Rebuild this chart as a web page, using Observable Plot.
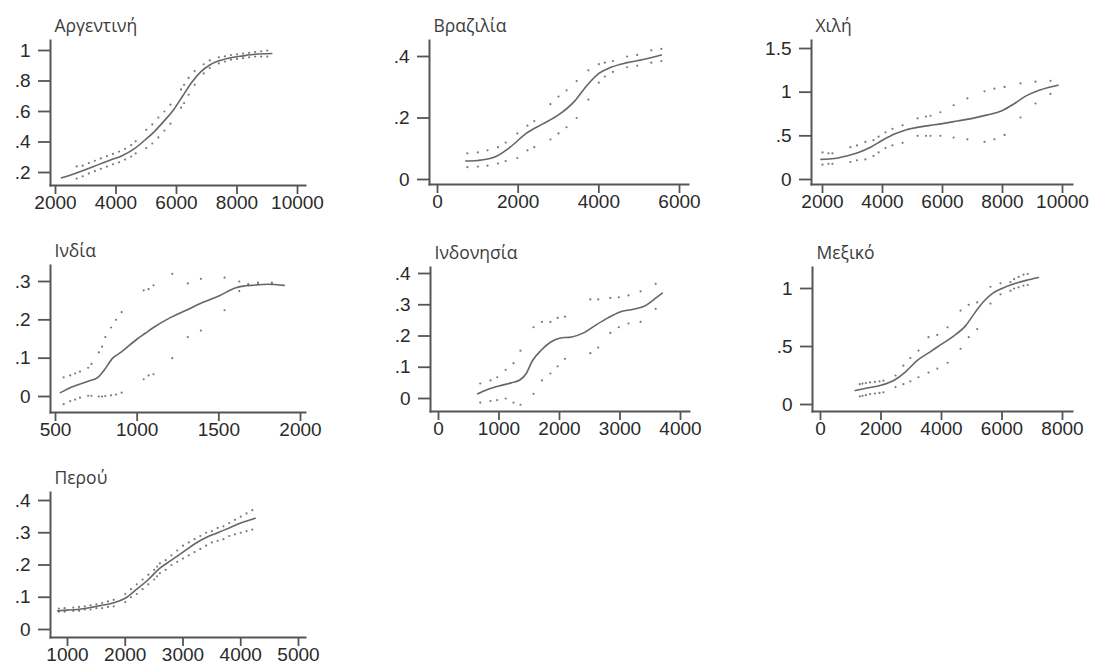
<!DOCTYPE html>
<html><head><meta charset="utf-8">
<script src="https://cdn.jsdelivr.net/npm/d3@7"></script>
<script src="https://cdn.jsdelivr.net/npm/@observablehq/plot@0.6"></script>
<style>
body{margin:0;background:#fff;}
#chart{position:relative;width:1093px;height:664px;overflow:hidden;background:#fff;}
.panel{position:absolute;}
</style></head><body><div id="chart"></div>
<script>
// ---------- DATA ----------
const countries = ["Αργεντινή","Βραζιλία","Χιλή","Ινδία","Ινδονησία","Μεξικό","Περού"];

// Αργεντινή
const argLineX = [2200,2600,3000,3400,3800,4200,4600,5000,5300,5600,5900,6200,6500,6800,7100,7400,7800,8200,8600,9150];
const argLineY = [0.165,0.19,0.22,0.25,0.28,0.31,0.355,0.42,0.475,0.54,0.61,0.70,0.79,0.86,0.905,0.932,0.953,0.965,0.975,0.98];
const argBandX = [2700,2900,3100,3300,3500,3700,3900,4100,4300,4500,4650,5000,5200,5400,5600,5800,6150,6250,6400,6600,6900,7100,7400,7600,7800,8000,8200,8400,8600,8800,9000];
const argUpper = [.24,.245,.262,.277,.292,.307,.322,.337,.355,.38,.405,.48,.515,.56,.60,.645,.745,.775,.82,.865,.91,.935,.955,.962,.97,.975,.98,.985,.99,.995,1.0];
const argLower = [.16,.175,.194,.209,.224,.239,.254,.267,.285,.305,.325,.36,.39,.43,.475,.52,.625,.655,.71,.775,.85,.885,.915,.928,.94,.945,.95,.955,.96,.96,.96];
const argXTicks = [2000,4000,6000,8000,10000];
const argYTicks = [0.2,0.4,0.6,0.8,1];

// Βραζιλία
const braLineX = [700,1000,1400,1800,2200,2600,3000,3400,3700,4000,4300,4700,5100,5550];
const braLineY = [0.06,0.062,0.072,0.105,0.15,0.18,0.21,0.255,0.305,0.345,0.365,0.38,0.39,0.405];
const braBandX = [740,1000,1240,1500,1690,1980,2230,2400,2800,3000,3200,3450,3740,4000,4150,4350,4700,4950,5300,5550];
const braUpper = [.085,.088,.095,.105,.12,.15,.175,.19,.245,.27,.29,.32,.355,.375,.38,.385,.40,.405,.42,.425];
const braLower = [.04,.042,.045,.052,.06,.07,.095,.105,.13,.15,.17,.20,.26,.315,.335,.35,.365,.37,.38,.385];
const braXTicks = [0,2000,4000,6000];
const braYTicks = [0,0.2,0.4];

// Χιλή
const chlLineX = [1950,2400,2800,3200,3600,4000,4400,4800,5200,5600,6000,6500,7000,7500,8000,8400,8800,9200,9600,9850];
const chlLineY = [.23,.24,.27,.31,.37,.45,.52,.57,.60,.62,.64,.67,.70,.74,.79,.87,.96,1.02,1.06,1.08];
const chlBandX = [2000,2200,2330,2930,3150,3430,3700,3870,4100,4330,4670,5170,5450,5600,5930,6370,6830,7400,7730,8070,8600,9100,9600];
const chlUpper = [.31,.30,.30,.37,.39,.43,.45,.49,.54,.58,.62,.70,.72,.73,.77,.85,.93,1.01,1.04,1.06,1.10,1.12,1.13];
const chlLower = [.17,.18,.18,.20,.22,.23,.27,.31,.36,.39,.42,.50,.50,.50,.50,.48,.46,.43,.46,.51,.71,.87,.98];
const chlXTicks = [2000,4000,6000,8000,10000];
const chlYTicks = [0,0.5,1,1.5];

// Ινδία
const indLineX = [530,600,700,760,800,850,900,1000,1050,1100,1200,1300,1400,1500,1600,1650,1700,1800,1900];
const indLineY = [.01,.025,.04,.05,.07,.10,.115,.15,.165,.18,.205,.225,.245,.262,.283,.288,.29,.293,.29];
const indBandX = [550,590,620,650,700,720,765,785,805,840,870,905,1040,1070,1100,1215,1310,1390,1535,1625,1680,1740,1825];
const indUpper = [.05,.055,.06,.065,.075,.085,.115,.13,.155,.18,.20,.22,.277,.28,.29,.32,.295,.307,.31,.30,.293,.297,.297];
const indLower = [-.02,-.012,-.008,-.003,.002,.002,0,0,.001,.003,.005,.01,.045,.055,.058,.10,.155,.172,.225,.275,.29,.293,.293];
const indXTicks = [500,1000,1500,2000];
const indYTicks = [0,0.1,0.2,0.3];

// Ινδονησία
const idnLineX = [650,800,1000,1200,1350,1450,1550,1700,1850,2000,2200,2400,2600,2800,3000,3200,3400,3550,3700];
const idnLineY = [.015,.028,.04,.05,.06,.08,.12,.155,.18,.193,.197,.21,.235,.258,.277,.285,.295,.315,.337];
const idnBandX = [690,860,970,1110,1240,1355,1570,1710,1850,1970,2090,2510,2640,2840,2980,3140,3340,3590];
const idnUpper = [.048,.058,.068,.092,.113,.153,.228,.245,.245,.258,.262,.317,.317,.322,.324,.33,.343,.367];
const idnLower = [-.013,-.008,-.005,0,-.013,-.02,.015,.058,.08,.103,.127,.145,.163,.21,.228,.24,.245,.287];
const idnXTicks = [0,1000,2000,3000,4000];
const idnYTicks = [0,0.1,0.2,0.3,0.4];

// Μεξικό
const mexLineX = [1150,1500,2000,2500,2800,3200,3600,4000,4400,4800,5100,5400,5700,6000,6400,6800,7200];
const mexLineY = [.12,.14,.165,.22,.28,.38,.45,.52,.59,.68,.79,.89,.96,1.0,1.04,1.07,1.095];
const mexBandX = [1300,1390,1500,1640,1800,1950,2080,2480,2740,2970,3240,3570,3860,4200,4630,4900,5180,5620,5950,6280,6400,6550,6710,6850];
const mexUpper = [.175,.18,.185,.19,.195,.20,.205,.25,.335,.40,.465,.58,.60,.665,.81,.86,.88,1.015,1.045,1.055,1.08,1.10,1.12,1.125];
const mexLower = [.07,.075,.08,.09,.095,.10,.105,.15,.175,.20,.235,.275,.31,.36,.48,.58,.65,.87,.95,.98,1.0,1.01,1.025,1.03];
const mexXTicks = [0,2000,4000,6000,8000];
const mexYTicks = [0,0.5,1];

// Περού
const perLineX = [830,1000,1200,1400,1600,1800,2000,2200,2400,2600,2800,3000,3200,3400,3600,3800,4000,4250];
const perLineY = [.058,.06,.063,.068,.075,.083,.097,.125,.155,.19,.215,.24,.265,.285,.30,.315,.33,.345];
const perBandX = [850,950,1100,1200,1300,1400,1500,1600,1700,1800,2000,2100,2200,2300,2400,2500,2550,2600,2700,2800,2900,3000,3100,3200,3300,3400,3500,3600,3700,3800,3900,4000,4100,4200];
const perUpper = [.065,.066,.068,.07,.072,.075,.078,.082,.087,.092,.11,.125,.14,.155,.17,.185,.195,.205,.215,.23,.245,.26,.27,.28,.29,.30,.305,.315,.32,.33,.34,.35,.36,.37];
const perLower = [.055,.055,.058,.058,.062,.062,.066,.066,.07,.072,.085,.1,.11,.125,.14,.155,.165,.175,.185,.2,.21,.22,.23,.24,.25,.26,.27,.275,.28,.29,.295,.30,.305,.31];
const perXTicks = [1000,2000,3000,4000,5000];
const perYTicks = [0,0.1,0.2,0.3,0.4];

// ---------- LAYOUT ----------
const panels = [
  {title: countries[0], lx: argLineX, ly: argLineY, bx: argBandX, up: argUpper, lo: argLower, xt: argXTicks, yt: argYTicks,
   frame: [50,305,40,185], ins: [5,8,10,13]},
  {title: countries[1], lx: braLineX, ly: braLineY, bx: braBandX, up: braUpper, lo: braLower, xt: braXTicks, yt: braYTicks,
   frame: [429,688,40,184], ins: [8,9,16,5]},
  {title: countries[2], lx: chlLineX, ly: chlLineY, bx: chlBandX, up: chlUpper, lo: chlLower, xt: chlXTicks, yt: chlYTicks,
   frame: [811,1072,40,184], ins: [11,10,8,5]},
  {title: countries[3], lx: indLineX, ly: indLineY, bx: indBandX, up: indUpper, lo: indLower, xt: indXTicks, yt: indYTicks,
   frame: [50,305,265,412], ins: [5,5,16,16]},
  {title: countries[4], lx: idnLineX, ly: idnLineY, bx: idnBandX, up: idnUpper, lo: idnLower, xt: idnXTicks, yt: idnYTicks,
   frame: [430,689,267,411], ins: [8,9,6,13]},
  {title: countries[5], lx: mexLineX, ly: mexLineY, bx: mexBandX, up: mexUpper, lo: mexLower, xt: mexXTicks, yt: mexYTicks,
   frame: [812,1072,267,411], ins: [8,10,21,7]},
  {title: countries[6], lx: perLineX, ly: perLineY, bx: perBandX, up: perUpper, lo: perLower, xt: perXTicks, yt: perYTicks,
   frame: [50,305,492,637], ins: [17,7,8,8]}
];

const ML = 50, MR = 20, MT = 40, MB = 27;
const fmt = d => d === 0 ? "0" : String(d).replace(/^0\./, ".").replace(/^-0\./, "-.");
const AX = "#555", TXT = "#2a2a2a";

const chart = document.getElementById("chart");
for (const p of panels) {
  const [L, R, T, B] = p.frame;
  const [iL, iR, iT, iB] = p.ins;
  const line = p.lx.map((x, i) => ({x, y: p.ly[i]}));
  const band = p.bx.flatMap((x, i) => [{x, y: p.up[i]}, {x, y: p.lo[i]}]);
  const svg = Plot.plot({
    width: R - L + ML + MR,
    height: B - T + MT + MB,
    marginLeft: ML, marginRight: MR, marginTop: MT, marginBottom: MB,
    style: {fontFamily: "'Liberation Sans', Arial, sans-serif", fontSize: "19px", color: TXT, background: "transparent", overflow: "visible"},
    x: {domain: [p.xt[0], p.xt[p.xt.length - 1]], insetLeft: iL, insetRight: iR, label: null},
    y: {domain: [p.yt[0], p.yt[p.yt.length - 1]], insetTop: iT, insetBottom: iB, label: null},
    marks: [
      Plot.axisY(p.yt, {tickSize: 12, tickPadding: 8, tickFormat: fmt, stroke: AX, strokeWidth: 1.8, fill: TXT, fontSize: 19}),
      Plot.axisX(p.xt, {tickSize: 9, tickPadding: 1, tickFormat: d => String(d), stroke: AX, strokeWidth: 1.8, fill: TXT, fontSize: 19}),
      Plot.frame({anchor: "left", stroke: AX, strokeWidth: 2}),
      Plot.frame({anchor: "bottom", stroke: AX, strokeWidth: 2}),
      Plot.dot(band, {x: "x", y: "y", r: 1.1, fill: "#7a7a7a", stroke: null}),
      Plot.line(line, {x: "x", y: "y", stroke: "#666", strokeWidth: 1.6, curve: "monotone-x"}),
      Plot.text([p.title], {frameAnchor: "top-left", dx: 4, dy: -9, lineAnchor: "bottom", textAnchor: "start", fontSize: 17.5, fontFamily: "'Open Sans', sans-serif", fill: "#3c3c3c"})
    ]
  });
  const div = document.createElement("div");
  div.className = "panel";
  div.style.left = (L - ML) + "px";
  div.style.top = (T - MT) + "px";
  div.appendChild(svg);
  chart.appendChild(div);
}
</script></body></html>
